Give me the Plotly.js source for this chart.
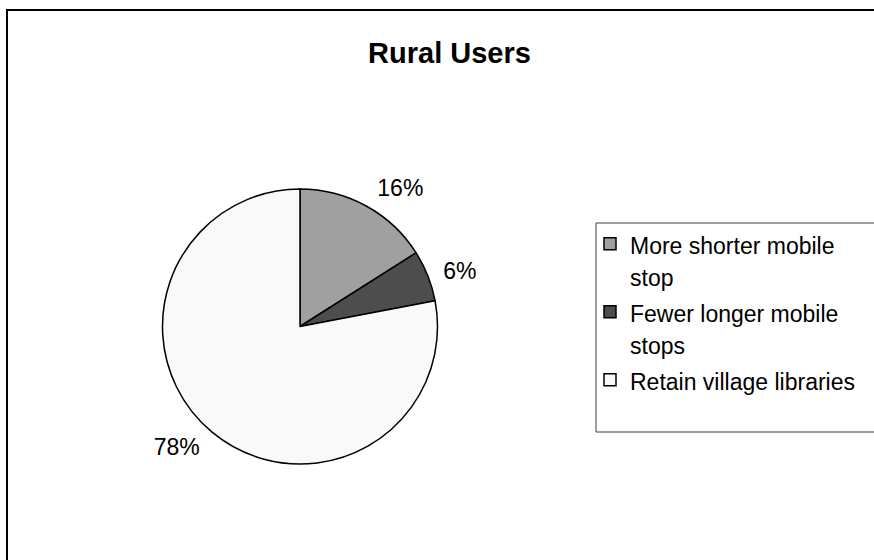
<!DOCTYPE html>
<html>
<head>
<meta charset="utf-8">
<script src="https://cdn.plot.ly/plotly-3.0.1.min.js"></script>
<style>
  html, body { margin: 0; padding: 0; background: #ffffff; }
  #chart { width: 874px; height: 560px; }
</style>
</head>
<body>
<div id="chart"></div>
<script>
// Data
const categories = ["More shorter mobile<br>stop", "Fewer longer mobile<br>stops", "Retain village libraries"];
const shares = [16, 6, 78];
const sliceColors = ["#a0a0a0", "#4d4d4d", "#f9f9f9"];
const chartTitle = "Rural Users";

const W = 874, H = 560;
const FONT = "Liberation Sans, Arial, sans-serif";

// legend labels: same categories, each line at the legend text size
const legendLabels = categories.map(c =>
  c.split("<br>").map(s => "<span style='font-size:23px'>" + s + "</span>").join("<br>")
);

// pie geometry (pixels)
const cx = 300, cy = 326.5, r = 137.5;
const rLabel = 147; // labels sit a little further out than the pie rim

function dom(rad) {
  return {
    x: [(cx - rad) / W, (cx + rad) / W],
    y: [(H - cy - rad) / H, (H - cy + rad) / H]
  };
}

// label carrier: same data, transparent, only draws the percentage texts
const labelTrace = {
  type: "pie",
  labels: legendLabels,
  values: shares,
  sort: false,
  direction: "clockwise",
  rotation: 0,
  marker: { colors: ["rgba(0,0,0,0)", "rgba(0,0,0,0)", "rgba(0,0,0,0)"], line: { width: 0 } },
  textinfo: "percent",
  textposition: "outside",
  outsidetextfont: { family: FONT, size: 23, color: "#000000" },
  textfont: { family: FONT, size: 23, color: "#000000" },
  automargin: false,
  showlegend: false,
  hoverinfo: "skip",
  domain: dom(rLabel)
};

const pieTrace = {
  type: "pie",
  labels: legendLabels,
  values: shares,
  sort: false,
  direction: "clockwise",
  rotation: 0,
  marker: { colors: sliceColors, line: { color: "#000000", width: 1.5 } },
  textinfo: "none",
  automargin: false,
  hoverinfo: "label+percent",
  domain: dom(r)
};

const layout = {
  width: W,
  height: H,
  margin: { l: 0, r: 0, t: 0, b: 0 },
  paper_bgcolor: "#ffffff",
  plot_bgcolor: "#ffffff",
  font: { family: FONT, size: 21, color: "#000000" },
  title: {
    text: "<b>" + chartTitle + "</b>",
    font: { family: FONT, size: 29, color: "#000000" },
    x: 449.5 / W,
    xanchor: "center",
    xref: "container",
    y: 1 - 53 / H,
    yanchor: "middle",
    yref: "container"
  },
  showlegend: true,
  legend: {
    x: 590 / W,
    xanchor: "left",
    y: 1 - 221 / H,
    yanchor: "top",
    valign: "top",
    bgcolor: "rgba(0,0,0,0)",
    borderwidth: 0,
    font: { family: FONT, size: 25, color: "#000000" },
    traceorder: "normal"
  },
  shapes: [
    // outer chart frame (extends past right/bottom edges)
    { type: "rect", xref: "paper", yref: "paper",
      x0: 7 / W, x1: 1.05, y0: -0.05, y1: 1 - 10 / H,
      line: { color: "#000000", width: 2 }, fillcolor: "rgba(0,0,0,0)", layer: "below" },
    // legend box
    { type: "rect", xref: "paper", yref: "paper",
      x0: 596 / W, x1: 1.05, y0: 1 - 432 / H, y1: 1 - 223 / H,
      line: { color: "#404040", width: 1 }, fillcolor: "rgba(0,0,0,0)", layer: "below" }
  ]
};

Plotly.newPlot("chart", [labelTrace, pieTrace], layout, { staticPlot: true, displayModeBar: false });
</script>
</body>
</html>
